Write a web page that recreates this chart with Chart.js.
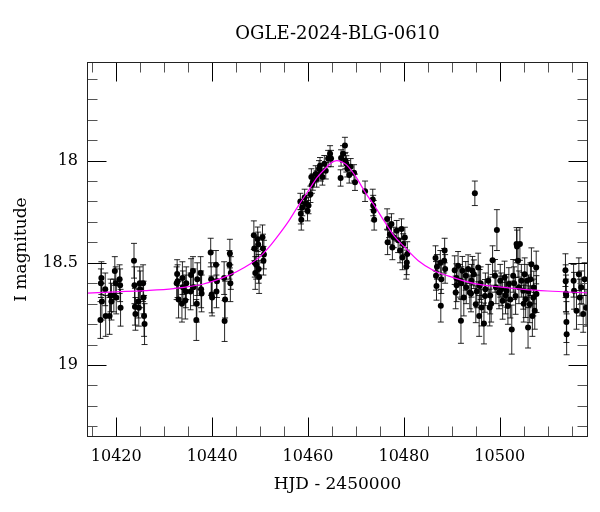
<!DOCTYPE html>
<html><head><meta charset="utf-8">
<script src="https://cdn.jsdelivr.net/npm/chart.js@4.4.1/dist/chart.umd.min.js"></script>
<style>html,body{margin:0;padding:0;background:#fff}#wrap{width:600px;height:512px;position:relative}</style>
</head><body><div id="wrap"><canvas id="c"></canvas></div>
<script>
const chartTitle = 'OGLE-2024-BLG-0610';
const xTitle = 'HJD - 2450000';
const yTitle = 'I magnitude';
const xTickLabels = [10420, 10440, 10460, 10480, 10500];
const yTickLabels = [18, 18.5, 19];

const hjd = [
 10416.7,10416.8,10416.9,10417.0,10417.7,10417.8,10418.6,10418.8,10419.0,10419.5,10419.7,10419.9,10420.0,10420.7,10420.8,10420.9,
 10423.7,10423.8,10423.9,10424.0,10424.6,10424.7,10424.9,10425.0,10425.6,10425.7,10425.8,10425.9,
 10432.6,10432.7,10432.8,10433.0,10433.7,10433.8,10433.9,10434.4,10434.5,10434.6,10435.5,10435.6,10436.0,10436.1,10436.7,10436.8,10436.9,10437.6,10437.7,10437.8,
 10439.7,10439.8,10439.9,10440.0,10440.8,10440.9,10441.0,10442.5,10442.6,10442.7,10443.6,10443.7,10443.8,10443.9,
 10448.7,10448.8,10448.9,10449.0,10449.2,10449.5,10449.6,10449.7,10449.8,10450.5,10450.6,10450.7,10450.8,
 10458.4,10458.5,10458.6,10458.8,10459.3,10459.5,10459.9,10460.1,10460.5,10460.7,10460.8,10461.0,10461.6,10461.8,10462.3,10462.5,10462.7,10463.0,10463.4,10463.7,10464.2,10464.6,10464.8,
 10466.8,10466.9,10467.3,10467.7,10467.8,10468.0,10468.2,10468.6,10468.9,10469.6,10469.8,
 10471.9,
 10473.5,10473.6,10473.7,10473.8,
 10476.5,10476.6,10476.9,10477.1,10477.4,10477.6,10477.9,10478.5,10478.8,10479.2,10479.5,10479.7,10479.85,10480.2,10480.5,10480.6,10480.7,
 10486.6,10486.7,10486.8,10486.9,10487.6,10487.7,10487.8,10488.4,10488.5,10488.6,
 10490.6,10490.8,10490.95,10491.3,10491.7,10491.9,10492.2,10492.5,10492.9,10493.4,10493.75,10494.1,10494.3,10494.6,10494.8,10495.0,10495.5,10495.7,10495.8,10496.2,10496.7,10496.9,10497.6,10497.9,10498.5,10499.0,10499.4,10499.85,10500.1,10500.6,10501.0,10501.4,10501.7,10501.9,10502.5,10502.8,10503.3,10503.5,10503.8,10504.2,10504.5,10504.9,10505.2,10505.4,10505.7,10505.9,10506.25,10506.6,10506.8,10507.1,10507.3,10507.6,10507.65,
 10491.0,10492.0,10493.0,10494.0,10495.2,10496.0,10497.0,10498.0,10498.2,10499.2,10500.3,10501.2,10502.2,10503.0,10503.6,10504.0,10505.0,10506.0,10506.4,10507.0,
 10513.7,10513.75,10513.8,10513.85,10513.9,10513.95,10515.4,10515.5,10516.0,10516.5,10516.7,10517.0,10517.4,10517.7,10518.0
];
const mag = [
 18.78,18.60,18.575,18.69,18.63,18.76,18.76,18.66,18.69,18.66,18.54,18.60,18.67,18.58,18.61,18.72,
 18.49,18.61,18.715,18.75,18.69,18.72,18.60,18.63,18.60,18.67,18.76,18.80,
 18.60,18.555,18.59,18.68,18.70,18.575,18.62,18.685,18.64,18.60,18.64,18.56,18.54,18.62,18.78,18.70,18.58,18.55,18.63,18.65,
 18.45,18.58,18.655,18.67,18.51,18.64,18.59,18.575,18.785,18.68,18.51,18.455,18.60,18.55,
 18.365,18.43,18.50,18.55,18.51,18.385,18.41,18.53,18.57,18.375,18.43,18.49,18.46,
 18.20,18.26,18.29,18.23,18.18,18.21,18.245,18.22,18.165,18.08,18.12,18.105,18.065,18.09,18.04,18.025,18.06,18.08,18.015,18.05,17.99,17.967,17.99,
 18.085,17.987,17.967,17.926,18.00,18.016,18.04,18.07,18.03,18.06,18.106,
 18.15,
 18.19,18.22,18.245,18.29,
 18.286,18.40,18.327,18.36,18.31,18.425,18.376,18.343,18.39,18.44,18.335,18.474,18.408,18.376,18.52,18.498,18.457,
 18.477,18.564,18.613,18.52,18.50,18.71,18.58,18.49,18.44,18.53,
 18.536,18.645,18.575,18.515,18.588,18.784,18.539,18.67,18.564,18.531,18.645,18.588,18.539,18.556,18.16,18.703,18.523,18.76,18.613,18.719,18.797,18.662,18.588,18.719,18.487,18.564,18.34,18.645,18.588,18.686,18.572,18.637,18.711,18.604,18.827,18.564,18.662,18.408,18.49,18.408,18.588,18.637,18.556,18.678,18.588,18.817,18.703,18.507,18.76,18.621,18.735,18.523,18.653,
 18.61,18.60,18.62,18.65,18.64,18.60,18.63,18.66,18.70,18.62,18.63,18.66,18.68,18.60,18.42,18.62,18.70,18.64,18.58,18.67,
 18.536,18.59,18.65,18.66,18.79,18.85,18.588,18.637,18.735,18.556,18.67,18.62,18.75,18.58,18.72
];
const magErr = [
 0.09,0.07,0.08,0.09,0.08,0.10,0.09,0.08,0.09,0.08,0.07,0.08,0.08,0.07,0.08,0.09,
 0.085,0.09,0.09,0.08,0.08,0.09,0.08,0.09,0.09,0.08,0.10,0.10,
 0.08,0.07,0.08,0.09,0.09,0.08,0.08,0.09,0.08,0.08,0.09,0.08,0.07,0.09,0.10,0.09,0.08,0.08,0.09,0.09,
 0.07,0.08,0.09,0.09,0.07,0.08,0.08,0.08,0.10,0.09,0.07,0.07,0.09,0.08,
 0.07,0.06,0.07,0.08,0.07,0.06,0.06,0.07,0.08,0.06,0.07,0.07,0.07,
 0.04,0.05,0.05,0.04,0.04,0.04,0.05,0.04,0.04,0.04,0.04,0.04,0.04,0.04,0.04,0.04,0.04,0.04,0.04,0.04,0.04,0.04,0.04,
 0.04,0.04,0.04,0.04,0.04,0.04,0.04,0.04,0.04,0.04,0.04,
 0.05,
 0.05,0.05,0.05,0.05,
 0.05,0.06,0.05,0.05,0.05,0.06,0.05,0.05,0.06,0.06,0.05,0.06,0.05,0.05,0.06,0.06,0.06,
 0.06,0.07,0.07,0.06,0.06,0.08,0.07,0.06,0.06,0.07,
 0.07,0.08,0.07,0.07,0.08,0.11,0.07,0.09,0.07,0.07,0.08,0.08,0.07,0.07,0.06,0.09,0.07,0.10,0.08,0.09,0.10,0.08,0.08,0.09,0.07,0.08,0.10,0.08,0.08,0.09,0.08,0.08,0.09,0.08,0.12,0.08,0.09,0.08,0.08,0.08,0.08,0.09,0.08,0.09,0.08,0.10,0.09,0.08,0.10,0.08,0.09,0.08,0.09,
 0.08,0.08,0.08,0.09,0.08,0.08,0.08,0.09,0.09,0.08,0.08,0.09,0.09,0.08,0.08,0.08,0.09,0.08,0.08,0.09,
 0.08,0.08,0.09,0.08,0.10,0.10,0.08,0.09,0.09,0.08,0.09,0.08,0.09,0.08,0.09
];

const modelHjd = [10414,10420,10426,10432,10438,10442,10445,10448,10450,10452,10454,10456,10458,10460,10462,10464,10465,10466,10467,10468,10470,10472,10474,10476,10478,10480,10483,10486,10490,10495,10500,10505,10510,10518.3];
const modelMag = [18.648,18.642,18.636,18.626,18.605,18.575,18.545,18.505,18.47,18.42,18.36,18.295,18.22,18.15,18.08,18.03,18.008,18.0,18.006,18.02,18.08,18.158,18.226,18.30,18.37,18.42,18.49,18.535,18.57,18.603,18.618,18.63,18.638,18.647];

const FONT = "'DejaVu Serif', serif";

const errorBars = {
  id: 'errorBars',
  beforeDatasetsDraw(chart) {
    const {ctx, chartArea: a, scales: {x, y}} = chart;
    ctx.save();
    ctx.beginPath(); ctx.rect(a.left, a.top, a.right - a.left, a.bottom - a.top); ctx.clip();
    ctx.strokeStyle = 'rgba(0,0,0,0.85)';
    ctx.lineWidth = 1;
    ctx.beginPath();
    for (let i = 0; i < hjd.length; i++) {
      const px = x.getPixelForValue(hjd[i]);
      const y1 = y.getPixelForValue(mag[i] - magErr[i]);
      const y2 = y.getPixelForValue(mag[i] + magErr[i]);
      ctx.moveTo(px, y1); ctx.lineTo(px, y2);
      ctx.moveTo(px - 3, y1); ctx.lineTo(px + 3, y1);
      ctx.moveTo(px - 3, y2); ctx.lineTo(px + 3, y2);
    }
    ctx.stroke();
    ctx.restore();
  }
};

const frameTicks = {
  id: 'frameTicks',
  afterDraw(chart) {
    const {ctx, chartArea: a, scales: {x, y}} = chart;
    ctx.save();
    ctx.lineWidth = 1;
    const minor = [], major = [];
    for (let v = Math.ceil(x.min / 5) * 5; v <= x.max; v += 5) {
      const px = Math.round(x.getPixelForValue(v)) + 0.5;
      const isMaj = v % 20 === 0;
      (isMaj ? major : minor).push(['x', px, isMaj ? 19 : 10]);
    }
    for (let i = Math.ceil(y.min * 10); i <= Math.floor(y.max * 10); i++) {
      const py = Math.round(y.getPixelForValue(i / 10)) + 0.5;
      const isMaj = i % 5 === 0;
      (isMaj ? major : minor).push(['y', py, isMaj ? 19 : 10]);
    }
    const drawSet = (set, color) => {
      ctx.strokeStyle = color;
      ctx.beginPath();
      for (const [ax, p, len] of set) {
        if (ax === 'x') {
          ctx.moveTo(p, a.bottom); ctx.lineTo(p, a.bottom - len);
          ctx.moveTo(p, a.top); ctx.lineTo(p, a.top + len);
        } else {
          ctx.moveTo(a.left, p); ctx.lineTo(a.left + len, p);
          ctx.moveTo(a.right, p); ctx.lineTo(a.right - len, p);
        }
      }
      ctx.stroke();
    };
    drawSet(minor, '#555');
    drawSet(major, '#000');
    ctx.strokeStyle = '#222';
    ctx.strokeRect(a.left, a.top, a.right - a.left, a.bottom - a.top);
    ctx.restore();
  }
};

new Chart(document.getElementById('c'), {
  type: 'scatter',
  data: {
    datasets: [
      {
        type: 'line',
        data: modelHjd.map((t, i) => ({x: t, y: modelMag[i]})),
        borderColor: '#ff00ff',
        borderWidth: 1.2,
        pointRadius: 0,
        fill: false,
        cubicInterpolationMode: 'monotone',
        order: 0
      },
      {
        data: hjd.map((t, i) => ({x: t, y: mag[i]})),
        backgroundColor: '#000',
        borderWidth: 0,
        pointRadius: 3,
        order: 1
      }
    ]
  },
  options: {
    responsive: true,
    maintainAspectRatio: false,
    animation: false,
    events: [],
    layout: {padding: {top: 0, right: 12.5, bottom: 0, left: 0}},
    plugins: {
      legend: {display: false},
      tooltip: {enabled: false},
      title: {
        display: true, text: chartTitle, fullSize: false, color: '#000',
        font: {family: FONT, size: 18, weight: 'normal'},
        padding: {top: 23.7, bottom: 17.2}
      }
    },
    scales: {
      x: {
        type: 'linear', min: 10414, max: 10518.3,
        grid: {display: false, drawTicks: false}, border: {display: false},
        afterBuildTicks: s => { s.ticks = xTickLabels.map(v => ({value: v})); },
        afterFit: s => { s.height = 75.5; },
        ticks: {color: '#000', padding: 11, maxRotation: 0, font: {family: FONT, size: 16}, callback: v => String(v)},
        title: {display: true, text: xTitle, color: '#000', font: {family: FONT, size: 17}, padding: {top: 17, bottom: 17}}
      },
      y: {
        type: 'linear', reverse: true, min: 17.52, max: 19.35,
        grid: {display: false, drawTicks: false}, border: {display: false},
        afterBuildTicks: s => { s.ticks = yTickLabels.map(v => ({value: v})); },
        afterFit: s => { s.width = 87.5; },
        ticks: {color: '#000', padding: 9.5, font: {family: FONT, size: 16}, callback: v => String(v)},
        title: {display: true, text: yTitle, color: '#000', font: {family: FONT, size: 17}, padding: {top: 11, bottom: 11}}
      }
    }
  },
  plugins: [errorBars, frameTicks]
});
</script>
</body></html>
